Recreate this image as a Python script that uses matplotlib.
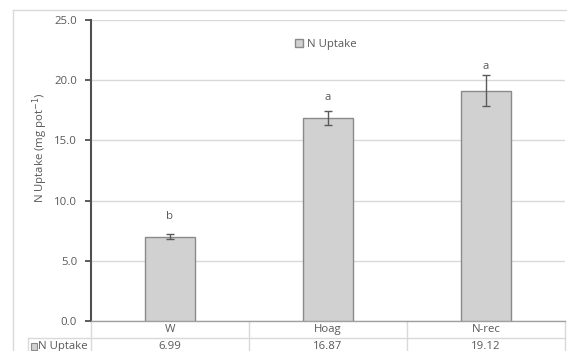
import matplotlib
matplotlib.use("Agg")
import matplotlib.pyplot as plt
from matplotlib.lines import Line2D
from matplotlib.patches import Rectangle

plt.rcParams['font.family'] = ['Open Sans', 'DejaVu Sans']

categories = ["W", "Hoag", "N-rec"]
n_uptake = [6.99, 16.87, 19.12]
errors = [0.22, 0.59, 1.29]
letters = ["b", "a", "a"]
series_name = "N Uptake"
yticks = [0.0, 5.0, 10.0, 15.0, 20.0, 25.0]

text_col = "#595959"
grid_col = "#d9d9d9"
fs = 8.2

W, H = 567, 351
top_px, bot_px, left_px, right_px = 20, 321, 91, 565
plot_h = bot_px - top_px
plot_w = right_px - left_px
fig = plt.figure(figsize=(W / 100, H / 100), dpi=100)
ax = fig.add_axes([left_px / W, 1 - bot_px / H, plot_w / W, plot_h / H])

x = list(range(len(categories)))
ax.bar(x, n_uptake, width=0.32, color="#d0d1d0", edgecolor="#8a8a8a", linewidth=1.0, zorder=3,
       label=series_name)
ax.errorbar(x, n_uptake, yerr=errors, fmt="none", ecolor="#5a5a5a", elinewidth=1.0,
            capsize=3, capthick=1.0, zorder=4)
# significance letters sit a little above each bar
for xi, v, e, lt in zip(x, n_uptake, errors, letters):
    ax.text(xi, max(v + 1.45, v + e + 0.5), lt, ha="center", va="baseline",
            fontsize=fs, color=text_col)

ax.set_xlim(-0.5, len(categories) - 0.5)
ax.set_ylim(0, 25)
ax.set_yticks(yticks)
ax.set_yticklabels([f"{t:.1f}" for t in yticks], fontsize=fs, color=text_col)
ax.set_xticks([])
ax.tick_params(axis="y", direction="out", length=4, width=1.2, color="#404040", pad=6)
ax.yaxis.grid(True, color=grid_col, linewidth=1.0, zorder=0)
ax.set_axisbelow(True)
for s in ["top", "right"]:
    ax.spines[s].set_visible(False)
ax.spines["left"].set_color("#505050")
ax.spines["left"].set_linewidth(1.5)
ax.spines["bottom"].set_color("#a0a0a0")
ax.spines["bottom"].set_linewidth(1.0)

ax.set_ylabel("N Uptake (mg pot$^{-1}$)", fontsize=fs, color=text_col)
ax.yaxis.set_label_coords((50 - left_px) / plot_w, (bot_px - 148) / plot_h)

leg = ax.legend(loc="upper center", bbox_to_anchor=(0.495, 0.97), frameon=False, fontsize=fs,
                handlelength=0.7, handleheight=0.7, handletextpad=0.3)
for t in leg.get_texts():
    t.set_color(text_col)

# data table under the plot
row_h = 17 / plot_h
trans = ax.transAxes
ncat = len(categories)
line_kw = dict(color=grid_col, linewidth=1.0, transform=trans, clip_on=False)
ax.add_line(Line2D([0, 1], [-row_h, -row_h], **line_kw))
ax.add_line(Line2D([1, 1], [0, -2.2 * row_h], **line_kw))
lx = (28 - left_px) / plot_w
ax.add_line(Line2D([lx, 0], [-row_h, -row_h], **line_kw))
ax.add_line(Line2D([lx, lx], [-row_h, -2.2 * row_h], **line_kw))
ax.add_line(Line2D([0, 0], [0, -2.2 * row_h], **line_kw))
for i in range(1, ncat):
    ax.add_line(Line2D([i / ncat, i / ncat], [0, -2.2 * row_h], **line_kw))
for i, (c, v) in enumerate(zip(categories, n_uptake)):
    cx = (i + 0.5) / ncat
    ax.text(cx, -0.5 * row_h, c, transform=trans, ha="center", va="center",
            fontsize=fs, color=text_col)
    ax.text(cx, -1.5 * row_h, f"{v:.2f}", transform=trans, ha="center", va="center",
            fontsize=fs, color=text_col)
mk = Rectangle((lx + 0.007, -1.5 * row_h - 0.012), 0.013, 0.022, transform=trans,
               facecolor="#d0d1d0", edgecolor="#8a8a8a", linewidth=0.8, clip_on=False)
ax.add_patch(mk)
ax.text(lx + 0.021, -1.5 * row_h, series_name, transform=trans, ha="left", va="center",
        fontsize=fs, color=text_col)

# outer chart frame
fx = 13 / W
fy = 1 - 10 / H
fig.add_artist(Line2D([fx, 1], [fy, fy], color=grid_col, linewidth=1.0, transform=fig.transFigure))
fig.add_artist(Line2D([fx, fx], [0, fy], color=grid_col, linewidth=1.0, transform=fig.transFigure))

fig.savefig("out.png", dpi=100)
